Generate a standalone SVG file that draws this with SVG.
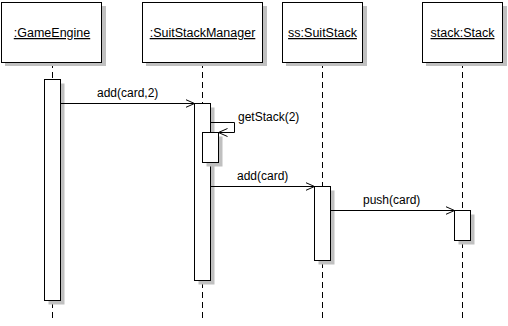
<svg xmlns="http://www.w3.org/2000/svg" width="508" height="326" viewBox="0 0 508 326">
  <defs>
    <style>
      .shadow { fill: #c0c0c0; stroke: none; }
      .box { fill: #ffffff; stroke: #000000; stroke-width: 1; }
      .life { stroke: #000000; stroke-width: 1; stroke-dasharray: 6 4; fill: none; }
      .msg { stroke: #000000; stroke-width: 1; fill: none; }
      .name { font-family: "Liberation Sans", Arial, sans-serif; font-size: 12.5px; fill: #000000; text-anchor: middle; text-decoration: underline; }
      .label { font-family: "Liberation Sans", Arial, sans-serif; font-size: 12px; fill: #000000; }
    </style>
    <marker id="open" viewBox="0 0 10 10" refX="9" refY="5" markerWidth="10" markerHeight="10" markerUnits="userSpaceOnUse" orient="auto">
      <path d="M0,1 L9,5 L0,9" fill="none" stroke="#000000" stroke-width="1"/>
    </marker>
  </defs>
  <rect width="508" height="326" fill="#ffffff"/>

  <!-- lifelines -->
  <g id="lifelines">
    <line class="life" x1="52.5" y1="62" x2="52.5" y2="318"/>
    <line class="life" x1="202.5" y1="62" x2="202.5" y2="318"/>
    <line class="life" x1="322.5" y1="62" x2="322.5" y2="318"/>
    <line class="life" x1="462.5" y1="62" x2="462.5" y2="318"/>
  </g>

  <g id="gameEngine">
    <rect class="shadow" x="5" y="6" width="101" height="60"/>
    <rect class="box" x="1.5" y="2.5" width="100" height="60"/>
    <text class="name" x="52" y="37">:GameEngine</text>
    <rect class="shadow" x="48.5" y="83.5" width="16" height="221"/>
    <rect class="box" x="44.5" y="79.5" width="16" height="221"/>
  </g>

  <g id="suitStackManager">
    <rect class="shadow" x="146" y="6" width="121" height="60"/>
    <rect class="box" x="142.5" y="2.5" width="120" height="60"/>
    <text class="name" x="202.5" y="37">:SuitStackManager</text>
    <rect class="shadow" x="198.5" y="107.5" width="16" height="177"/>
    <rect class="box" x="194.5" y="103.5" width="16" height="177"/>
    <rect class="shadow" x="206.5" y="136.5" width="16" height="30"/>
    <rect class="box" x="202.5" y="132.5" width="16" height="30"/>
  </g>

  <g id="suitStack">
    <rect class="shadow" x="286" y="6" width="81" height="60"/>
    <rect class="box" x="282.5" y="2.5" width="80" height="60"/>
    <text class="name" x="322.5" y="37">ss:SuitStack</text>
    <rect class="shadow" x="318.5" y="190.5" width="16" height="74"/>
    <rect class="box" x="314.5" y="186.5" width="16" height="74"/>
  </g>

  <g id="stack">
    <rect class="shadow" x="426" y="6" width="81" height="60"/>
    <rect class="box" x="422.5" y="2.5" width="80" height="60"/>
    <text class="name" x="462.5" y="37">stack:Stack</text>
    <rect class="shadow" x="458.5" y="214.5" width="16" height="30"/>
    <rect class="box" x="454.5" y="210.5" width="16" height="30"/>
  </g>

  <!-- messages -->
  <g id="connectors">
    <line class="msg" x1="60.5" y1="103.5" x2="194.5" y2="103.5" marker-end="url(#open)"/>
    <text class="label" x="97" y="97">add(card,2)</text>

    <polyline class="msg" points="210.5,122.5 234.5,122.5 234.5,132.5 218.5,132.5" marker-end="url(#open)"/>
    <text class="label" x="238" y="121">getStack(2)</text>

    <line class="msg" x1="210.5" y1="186.5" x2="314.5" y2="186.5" marker-end="url(#open)"/>
    <text class="label" x="237" y="180">add(card)</text>

    <line class="msg" x1="330.5" y1="210.5" x2="454.5" y2="210.5" marker-end="url(#open)"/>
    <text class="label" x="363" y="204">push(card)</text>
  </g>
</svg>
